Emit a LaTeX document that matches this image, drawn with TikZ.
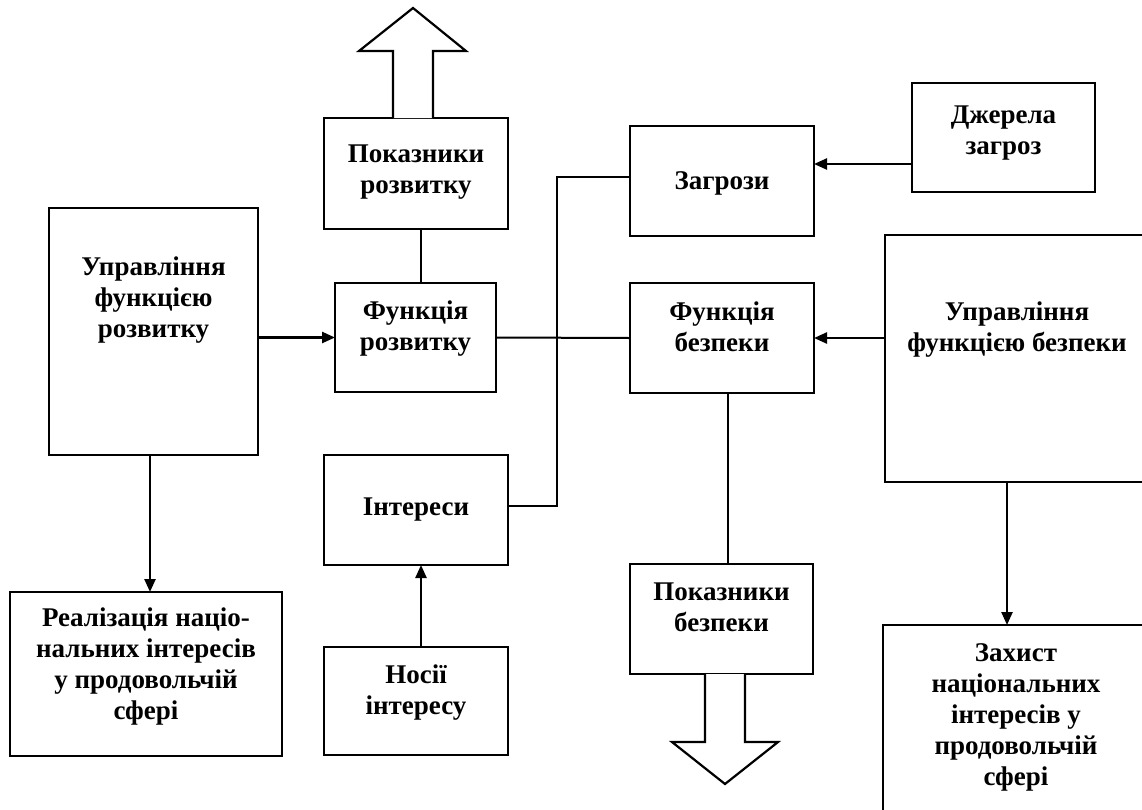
\documentclass[tikz,border=0pt]{standalone}
\usepackage{fontspec}
\setmainfont{Liberation Serif}
\usetikzlibrary{arrows.meta}
\tikzset{
  box/.style={draw, line width=2.2pt, rectangle, inner sep=0pt, outer sep=0pt},
  txt/.style={align=center, inner sep=0pt, font=\fontsize{27}{31}\selectfont\bfseries},
  conn/.style={line width=2pt},
  arr/.style={line width=2.4pt, -{Triangle[length=13pt,width=11pt]}},
  bigarrow/.style={draw, line width=2.2pt, fill=white, line join=miter}
}
\begin{document}
\begin{tikzpicture}[x=1pt,y=-1pt]
\useasboundingbox (0,0) rectangle (1142,809);
\clip (0,0) rectangle (1142,809);
\fill[white] (0,0) rectangle (1142,809);

% boxes
\node[box, minimum width=209pt, minimum height=247pt] (ur) at (153.5,331.5) {};
\node[box, minimum width=184pt, minimum height=111pt] (pr) at (416,173.5) {};
\node[box, minimum width=161pt, minimum height=109pt] (fr) at (415.5,337.5) {};
\node[box, minimum width=184pt, minimum height=110pt] (zg) at (722,181) {};
\node[box, minimum width=183pt, minimum height=109pt] (dz) at (1003.5,137.5) {};
\node[box, minimum width=184pt, minimum height=110pt] (fb) at (722,338) {};
\node[box, minimum width=264pt, minimum height=247pt] (ub) at (1017,358.5) {};
\node[box, minimum width=184pt, minimum height=110pt] (in) at (416,510) {};
\node[box, minimum width=184pt, minimum height=108pt] (ns) at (416,701) {};
\node[box, minimum width=272pt, minimum height=164pt] (rn) at (146,674) {};
\node[box, minimum width=183pt, minimum height=110pt] (pb) at (721.5,619) {};
\node[box, minimum width=266pt, minimum height=235pt] (zh) at (1016,742.5) {};

% texts
\node[txt] (ur-t) at (153.5,300) {Управління\\функцією\\розвитку};
\node[txt] (pr-t) at (416,172) {Показники\\розвитку};
\node[txt] (fr-t) at (415.5,328.5) {Функція\\розвитку};
\node[txt] (zg-t) at (722,183) {Загрози};
\node[txt] (dz-t) at (1003.5,133.5) {Джерела\\загроз};
\node[txt] (fb-t) at (722,327) {Функція\\безпеки};
\node[txt] (ub-t) at (1017,329.5) {Управління\\функцією безпеки};
\node[txt] (in-t) at (416,510) {Інтереси};
\node[txt] (ns-t) at (416,693) {Носії\\інтересу};
\node[txt] (rn-t) at (146,666) {Реалізація націо-\\нальних інтересів\\у продовольчій\\сфері};
\node[txt] (pb-t) at (721.5,607.5) {Показники\\безпеки};
\node[txt] (zh-t) at (1016,717.5) {Захист\\національних\\інтересів у\\продовольчій\\сфері};

% connectors
\draw[arr] (ur.east |- fr.west) -- (fr.west);
\draw[conn] (pr.south -| 421,0) -- (fr.north -| 421,0);
\draw[conn] (fr.east) -- (fb.west);
\coordinate (j) at (557,506);
\draw[conn] (zg.west |- 0,177) -| (j) -- (j -| in.east);
\draw[arr] (dz.west |- 0,164) -- (zg.east |- 0,164);
\draw[arr] (ub.west |- fb.east) -- (fb.east);
\draw[conn] (fb.south -| 728,0) -- (pb.north -| 728,0);
\draw[arr] (ns.north -| 421,0) -- (in.south -| 421,0);
\draw[arr] (ur.south -| 150,0) -- (rn.north -| 150,0);
\draw[arr] (ub.south -| 1007,0) -- (zh.north -| 1007,0);

% big hollow arrows
\draw[bigarrow] (pr.north -| 393,0) -- (393,51) -- (359,51) -- (413,8) -- (466,51) -- (433,51) -- (pr.north -| 433,0);
\draw[bigarrow] (pb.south -| 705,0) -- (705,742) -- (672,742) -- (725,784) -- (778,742) -- (745,742) -- (pb.south -| 745,0);
\end{tikzpicture}
\end{document}
